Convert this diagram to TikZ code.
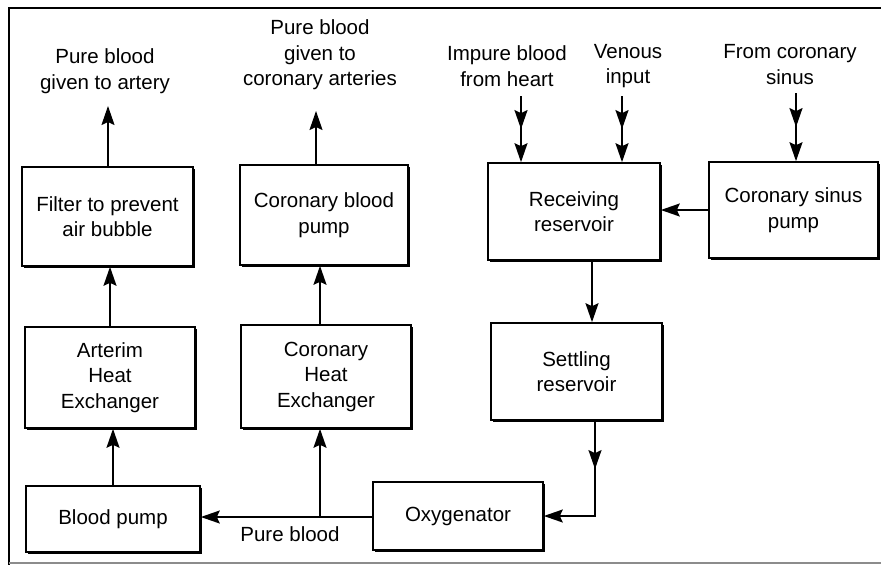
\documentclass[tikz,border=0pt]{standalone}
\usepackage{fontspec}
\setmainfont{Liberation Sans}
\usetikzlibrary{arrows.meta,shadows,decorations.markings,calc}
\tikzset{
  tip/.tip={Stealth[length=19pt,width=13pt,inset=3pt]},
  blk/.style={draw, line width=1.6pt, fill=white, align=center,
    drop shadow={shadow xshift=2.4pt, shadow yshift=-2.4pt, fill=black, opacity=1}},
  lbl/.style={align=center},
  conn/.style={line width=1.7pt, -tip},
  dbl/.style={conn, postaction={decorate}, decoration={markings,
    mark=at position 0.5 with {\arrow{tip}}}},
  frm/.style={line width=1.4pt}
}
\begin{document}
\begin{tikzpicture}[x=1pt,y=-1pt, font=\fontsize{20.5pt}{25.5pt}\selectfont]
\useasboundingbox (0,0) rectangle (881,565);
% frame
\draw[frm] (9,565) -- (9,8) -- (881,8);
\draw[line width=1.2pt, black!45] (9,563) -- (881,563);
% boxes
\node[blk, minimum width=171pt, minimum height=99pt] (filt) at (107.5,216.5) {Filter to prevent\\air bubble};
\node[blk, minimum width=168pt, minimum height=100pt] (cbp) at (324,215) {Coronary blood\\pump};
\node[blk, minimum width=170pt, minimum height=101pt] (ahe) at (110,377.5) {Arterim\\Heat\\Exchanger};
\node[blk, minimum width=170pt, minimum height=103pt] (che) at (326,376.5) {Coronary\\Heat\\Exchanger};
\node[blk, minimum width=174pt, minimum height=66pt] (bp) at (113,519) {Blood pump};
\node[blk, minimum width=170pt, minimum height=68pt] (oxy) at (458,516) {Oxygenator};
\node[blk, minimum width=172pt, minimum height=97pt] (rr) at (574,211.5) {Receiving\\reservoir};
\node[blk, minimum width=169pt, minimum height=96pt] (csp) at (793.5,210) {Coronary sinus\\pump};
\node[blk, minimum width=171pt, minimum height=97pt] (sr) at (576.5,371.5) {Settling\\reservoir};
% labels
\node[lbl] (t1) at (105,71) {Pure blood\\given to artery};
\node[lbl] (t2) at (320,55) {Pure blood\\given to\\coronary arteries};
\node[lbl] (t3) at (507,66) {Impure blood\\from heart};
\node[lbl] (t4) at (628,66) {Venous\\input};
\node[lbl] (t5) at (790,64.5) {From coronary\\sinus};
\node[lbl] (pb) at (290,534) {Pure blood};
% free ends
\coordinate (e1) at (108,106);
\coordinate (e2) at (316,111);
\coordinate (s3) at (521,96);
\coordinate (s4) at (622,96);
\coordinate (s5) at (796,93);
\coordinate (j1) at (320,517);
\coordinate (k1) at (595,516);
% connectors
\draw[conn] (filt.north -| e1) -- (e1);
\draw[conn] (cbp.north -| e2) -- (e2);
\draw[conn] (ahe.north -| 110,0) -- (filt.south -| 110,0);
\draw[conn] (bp.north) -- (bp.north |- ahe.south);
\draw[conn] (che.north -| 320,0) -- (cbp.south -| 320,0);
\draw[dbl] (s3) -- (rr.north -| s3);
\draw[dbl] (s4) -- (rr.north -| s4);
\draw[dbl] (s5) -- (csp.north -| s5);
\draw[conn] (csp.west) -- (rr.east |- csp.west);
\draw[conn] (rr.south -| 592,0) -- (sr.north -| 592,0);
\draw[line width=1.7pt, postaction={decorate}, decoration={markings,
    mark=at position 0.33 with {\arrow{tip}}}, -tip]
    (sr.south -| k1) -- (k1) -- (oxy.east |- k1);
\draw[conn] (oxy.west |- j1) -- (bp.east |- j1);
\draw[conn] (j1) -- (che.south -| j1);
\end{tikzpicture}
\end{document}
